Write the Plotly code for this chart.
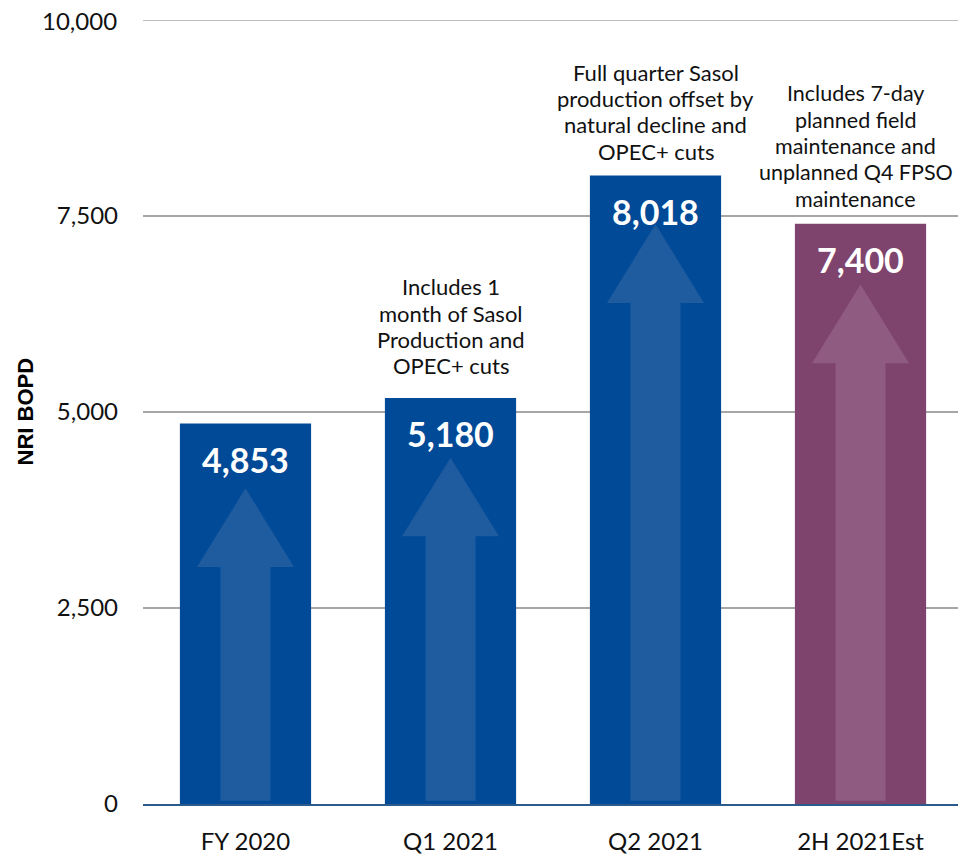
import plotly.graph_objects as go

categories = ["FY 2020", "Q1 2021", "Q2 2021", "2H 2021Est"]
values = [4853, 5180, 8018, 7400]
value_labels = ["4,853", "5,180", "8,018", "7,400"]
notes = [
    [],
    ["Includes 1", "month of Sasol", "Production and", "OPEC+ cuts"],
    ["Full quarter Sasol", "production offset by", "natural decline and", "OPEC+ cuts"],
    ["Includes 7-day", "planned field", "maintenance and", "unplanned Q4 FPSO", "maintenance"],
]
y_ticks = [0, 2500, 5000, 7500, 10000]
y_ticklabels = ["0", "2,500", "5,000", "7,500", "10,000"]

# styling
bar_colors = ["#004A98", "#004A98", "#004A98", "#7F446D"]
arrow_colors = ["#1F5C9F", "#1F5C9F", "#1F5C9F", "#8F5B81"]
arrow_gap_px = [65, 60, 49, 61]      # arrow tip distance below bar top (px)
note_gap_px = [0, 32, 24, 25]        # last note line centre above bar top (px)
note_xshift_px = [0, 0, 0, -5]
note_font_size = [22, 22, 22, 21.5]
note_line_px = 26.4

W, H = 958, 855
ml, mr, mt, mb = 143, 0, 20, 48
plot_h = H - mt - mb
y_max = 10000
px_per_unit = plot_h / y_max
cat_px = 205.0
x_span = (W - ml - mr) / cat_px

fig = go.Figure()
fig.add_trace(go.Bar(
    x=list(range(len(categories))), y=values,
    marker=dict(color=bar_colors, line=dict(width=0)),
    width=0.64, hoverinfo="skip",
))

shapes = []
head_h = 79 / px_per_unit
half_head = 48.5 / cat_px
half_stem = 25 / cat_px
base_y = 40
for i, v in enumerate(values):
    tip = v - arrow_gap_px[i] / px_per_unit
    hb = tip - head_h
    path = (f"M {i - half_stem} {base_y} L {i - half_stem} {hb} L {i - half_head} {hb} "
            f"L {i} {tip} L {i + half_head} {hb} L {i + half_stem} {hb} L {i + half_stem} {base_y} Z")
    shapes.append(dict(type="path", path=path, xref="x", yref="y",
                       fillcolor=arrow_colors[i], line=dict(width=0), layer="above"))

# top gridline (plotly omits the one on the plot edge)
shapes.append(dict(type="line", xref="paper", yref="y", x0=0, x1=1, y0=y_ticks[-1], y1=y_ticks[-1],
                   line=dict(color="#A6A6A6", width=1.5), layer="below"))

annotations = []
for i, v in enumerate(values):
    annotations.append(dict(x=i, y=v, xref="x", yref="y", text=value_labels[i],
                            showarrow=False, yanchor="middle", yshift=-36,
                            font=dict(family="Lato", size=34, color="white", weight="bold")))
    n = len(notes[i])
    for k, line in enumerate(notes[i]):
        annotations.append(dict(x=i, y=v, xref="x", yref="y", text=line,
                                showarrow=False, yanchor="middle", xshift=note_xshift_px[i],
                                yshift=note_gap_px[i] + (n - 1 - k) * note_line_px,
                                font=dict(family="Lato", size=note_font_size[i], color="#111111")))

# top tick label (kept as an annotation so it is not dropped at the plot edge)
annotations.append(dict(x=0, y=y_ticks[-1], xref="paper", yref="y", text=y_ticklabels[-1],
                        showarrow=False, xanchor="right", yanchor="middle", xshift=-24,
                        font=dict(family="Lato", size=24, color="#111111")))

annotations.append(dict(x=(26 - ml) / (W - ml - mr), y=(H - mb - 413) / plot_h,
                        xref="paper", yref="paper", text="<b>NRI BOPD</b>",
                        showarrow=False, textangle=-90, xanchor="center", yanchor="middle",
                        font=dict(family="Liberation Sans", size=22, color="#000000")))

fig.update_layout(
    width=W, height=H,
    margin=dict(l=ml, r=mr, t=mt, b=mb, pad=0),
    paper_bgcolor="white", plot_bgcolor="white",
    showlegend=False, hovermode=False,
    shapes=shapes, annotations=annotations,
    xaxis=dict(range=[-0.5, -0.5 + x_span], tickmode="array",
               tickvals=list(range(len(categories))), ticktext=categories,
               showgrid=False, zeroline=False, showline=True, linecolor="#2B5B8C", linewidth=2,
               ticks="", ticklabelstandoff=15,
               tickfont=dict(family="Lato", size=24, color="#111111")),
    yaxis=dict(range=[0, y_max], tickmode="array", tickvals=y_ticks[:-1], ticktext=y_ticklabels[:-1],
               showgrid=True, gridcolor="#A6A6A6", gridwidth=1.5, zeroline=False,
               showline=False, ticks="", ticklabelstandoff=24,
               tickfont=dict(family="Lato", size=24, color="#111111")),
)

fig.write_html("out.html", config={"displayModeBar": False},
               post_script="document.body.style.margin='0';document.body.style.overflow='hidden';")
